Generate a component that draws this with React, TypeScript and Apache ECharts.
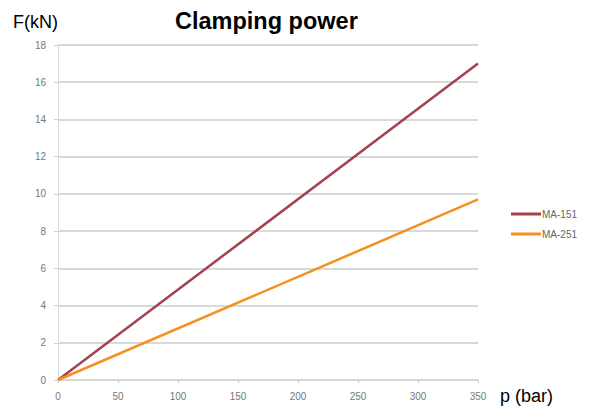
import React, { useEffect, useRef } from "react";
import * as echarts from "echarts";

const pressures = [0, 350];
const ma151 = [0, 17.0];
const ma251 = [0, 9.7];
const seriesNames = ["MA-151", "MA-251"];
const xTicks = { min: 0, max: 350, interval: 50 };
const yTicks = { min: 0, max: 18, interval: 2 };

export default function App() {
  const ref = useRef<HTMLDivElement>(null);
  useEffect(() => {
    document.body.style.margin = "0";
    const chart = echarts.init(ref.current!, null, { renderer: "svg" });
    const font = "Liberation Sans, Arial, sans-serif";
    chart.setOption({
      animation: false,
      backgroundColor: "#ffffff",
      grid: { left: 58, right: 111, top: 45, bottom: 27, containLabel: false },
      graphic: [
        {
          type: "text",
          x: 175,
          y: 21,
          style: {
            text: "Clamping power",
            font: `bold 23.5px ${font}`,
            fill: "#000",
            textVerticalAlign: "middle",
          },
        },
        {
          type: "text",
          x: 13,
          y: 22,
          style: {
            text: "F(kN)",
            font: `18px ${font}`,
            fill: "#000",
            textVerticalAlign: "middle",
          },
        },
        {
          type: "text",
          x: 500,
          y: 396,
          style: {
            text: "p (bar)",
            font: `18px ${font}`,
            fill: "#000",
            textVerticalAlign: "middle",
          },
        },
      ],
      legend: {
        orient: "vertical",
        left: 506,
        top: 204,
        itemWidth: 30,
        itemHeight: 3,
        itemGap: 10,
        icon: "rect",
        textStyle: { fontFamily: font, fontSize: 10, color: "#666", padding: [0, 0, 0, -4] },
        data: seriesNames,
      },
      xAxis: {
        type: "value",
        min: xTicks.min,
        max: xTicks.max,
        interval: xTicks.interval,
        axisLine: { show: true, lineStyle: { color: "#d4d4d4", width: 1 } },
        axisTick: { show: true, length: 3, lineStyle: { color: "#c8c8c8" } },
        splitLine: { show: false },
        axisLabel: { fontFamily: font, fontSize: 10, color: "#777", margin: 11 },
      },
      yAxis: {
        type: "value",
        min: yTicks.min,
        max: yTicks.max,
        interval: yTicks.interval,
        axisLine: { show: true, lineStyle: { color: "#dadada", width: 1 } },
        axisTick: { show: true, length: 4, lineStyle: { color: "#d0d0d0" } },
        splitLine: { show: true, lineStyle: { color: "#d9d9d9", width: 2 } },
        axisLabel: { fontFamily: font, fontSize: 10, color: "#777", margin: 12 },
      },
      series: [
        {
          name: seriesNames[0],
          type: "line",
          data: pressures.map((p, i) => [p, ma151[i]]),
          showSymbol: false,
          symbol: "none",
          lineStyle: { color: "#a3424f", width: 2.5 },
          itemStyle: { color: "#a3424f" },
        },
        {
          name: seriesNames[1],
          type: "line",
          data: pressures.map((p, i) => [p, ma251[i]]),
          showSymbol: false,
          symbol: "none",
          lineStyle: { color: "#f4901f", width: 2.5 },
          itemStyle: { color: "#f4901f" },
        },
      ],
    });
    return () => chart.dispose();
  }, []);
  return (
    <div
      ref={ref}
      style={{ position: "fixed", left: 0, top: 0, width: 589, height: 407 }}
    />
  );
}
